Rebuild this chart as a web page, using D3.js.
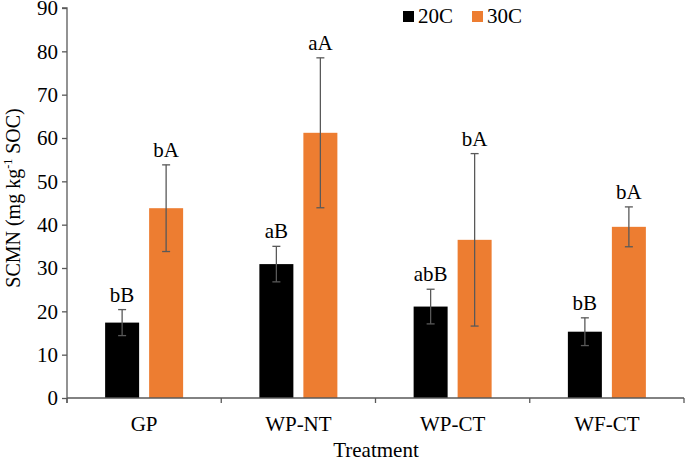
<!DOCTYPE html>
<html><head><meta charset="utf-8">
<script src="https://cdn.jsdelivr.net/npm/d3@7"></script>
<style>body{margin:0;background:#fff}svg{display:block}</style>
</head><body>
<svg id="c" width="685" height="461"></svg>
<script>
const categories = ["GP", "WP-NT", "WP-CT", "WF-CT"];
const seriesNames = ["20C", "30C"];
const values20 = [17.4, 30.9, 21.1, 15.3];
const values30 = [43.8, 61.2, 36.5, 39.5];
const err20 = [3.0, 4.1, 4.0, 3.2];
const err30 = [10.0, 17.3, 19.9, 4.6];
const labels20 = ["bB", "aB", "abB", "bB"];
const labels30 = ["bA", "aA", "bA", "bA"];
const yTicks = [0, 10, 20, 30, 40, 50, 60, 70, 80, 90];
const colors = ["#000000", "#ED7D31"];

(function () {
const font = "Liberation Serif, Times New Roman, serif";
const fs = 21;
const svg = d3.select("#c").style("font-family", font);
const mL = 67, mR = 684, mT = 8, mB = 398;

const x = d3.scaleBand().domain(categories).range([mL, mR]).paddingInner(0).paddingOuter(0);
const y = d3.scaleLinear().domain([0, 90]).range([mB, mT]);
const bw = 34, gap = 10;
const xs = d3.scaleOrdinal().domain(seriesNames).range([-(bw + gap / 2), gap / 2]);

const data = [];
categories.forEach((c, i) => {
  data.push({c, s: "20C", v: values20[i], e: err20[i], l: labels20[i], col: colors[0]});
  data.push({c, s: "30C", v: values30[i], e: err30[i], l: labels30[i], col: colors[1]});
});

// bars
svg.append("g").selectAll("rect").data(data).join("rect")
  .attr("x", d => x(d.c) + x.bandwidth() / 2 + xs(d.s))
  .attr("y", d => y(d.v))
  .attr("width", bw)
  .attr("height", d => y(0) - y(d.v))
  .attr("fill", d => d.col);

// error bars
const eg = svg.append("g").attr("stroke", "#595959").attr("stroke-width", 1.3).attr("fill", "none");
data.forEach(d => {
  const cx = x(d.c) + x.bandwidth() / 2 + xs(d.s) + bw / 2;
  const y1 = y(d.v + d.e), y2 = y(d.v - d.e);
  eg.append("line").attr("x1", cx).attr("x2", cx).attr("y1", y1).attr("y2", y2);
  eg.append("line").attr("x1", cx - 4).attr("x2", cx + 4).attr("y1", y1).attr("y2", y1);
  eg.append("line").attr("x1", cx - 4).attr("x2", cx + 4).attr("y1", y2).attr("y2", y2);
});

// letters
svg.append("g").selectAll("text").data(data).join("text")
  .attr("x", d => x(d.c) + x.bandwidth() / 2 + xs(d.s) + bw / 2)
  .attr("y", d => y(d.v + d.e) - 8)
  .attr("text-anchor", "middle")
  .attr("font-family", font).attr("font-size", fs).attr("fill", "#000")
  .text(d => d.l);

// y axis
const ya = svg.append("g").attr("transform", `translate(${mL},0)`)
  .call(d3.axisLeft(y).tickValues(yTicks).tickSize(5).tickPadding(4));
ya.attr("font-family", font);
ya.selectAll("text").attr("font-family", font).attr("font-size", fs).attr("fill", "#000");
ya.selectAll("line,path").attr("stroke", "#595959").attr("stroke-width", 1.3);
ya.select(".domain").attr("d", `M-5,${mT}H0V${mB + 5}`);

// x axis
const xa = svg.append("g").attr("transform", `translate(0,${mB})`)
  .call(d3.axisBottom(x).tickSize(0).tickPadding(18));
xa.attr("font-family", font);
xa.selectAll("text").attr("font-family", font).attr("font-size", fs).attr("fill", "#000");
xa.select(".domain").attr("stroke", "#595959").attr("stroke-width", 1.3).attr("d", `M${mL},0H${mR}`);
const bounds = [mL, ...categories.map(c => x(c) + x.bandwidth())];
xa.append("g").selectAll("line").data(bounds).join("line")
  .attr("x1", d => d).attr("x2", d => d).attr("y1", 0).attr("y2", 5)
  .attr("stroke", "#595959").attr("stroke-width", 1.3);

// axis titles
svg.append("text").attr("x", 376).attr("y", 457)
  .attr("text-anchor", "middle").attr("font-family", font).attr("font-size", fs).text("Treatment");
const yt = svg.append("text").attr("transform", "translate(20,198) rotate(-90)")
  .attr("text-anchor", "middle").attr("font-family", font).attr("font-size", 20);
yt.append("tspan").text("SCMN (mg kg");
yt.append("tspan").attr("dy", -8).attr("font-size", 12).text("-1");
yt.append("tspan").attr("dy", 8).text(" SOC)");

// legend
const lg = svg.append("g");
const lx = [403, 472];
seriesNames.forEach((s, i) => {
  lg.append("rect").attr("x", lx[i]).attr("y", 11).attr("width", 11).attr("height", 11).attr("fill", colors[i]);
  lg.append("text").attr("x", lx[i] + 15).attr("y", 23).attr("font-family", font).attr("font-size", fs).text(s);
});
})();
</script>
</body></html>
